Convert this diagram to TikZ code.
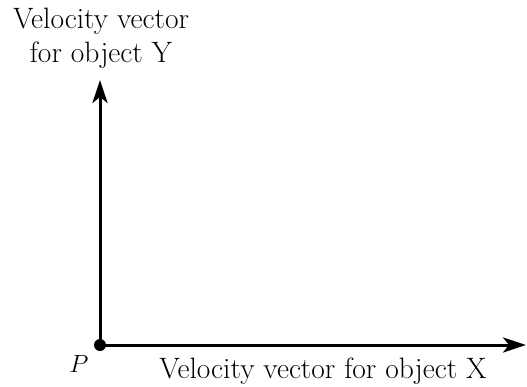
\documentclass[tikz,border=0pt]{standalone}
\usetikzlibrary{arrows.meta}
\begin{document}
\begin{tikzpicture}[x=1pt,y=-1pt,
  vec/.style={line width=3pt,-{Stealth[length=23pt,width=15pt,inset=6pt]}},
  lbl/.style={font=\fontsize{29.5}{34}\selectfont,inner sep=0pt,anchor=base}]
\useasboundingbox (0,0) rectangle (527,386);
\coordinate (P) at (100,345);
\coordinate (Ytip) at (100,80);
\coordinate (Xtip) at (526,345);
\draw[vec] (P) -- (Ytip);
\draw[vec] (P) -- (Xtip);
\fill (P) circle (6pt);
\node[lbl] (ylab1) at (101,28) {Velocity vector};
\node[lbl] (ylab2) at (101,62) {for object Y};
\node[lbl] (plab) at (79,372) {$P$};
\node[lbl] (xlab) at (323,378.5) {Velocity vector for object X};
\end{tikzpicture}
\end{document}
